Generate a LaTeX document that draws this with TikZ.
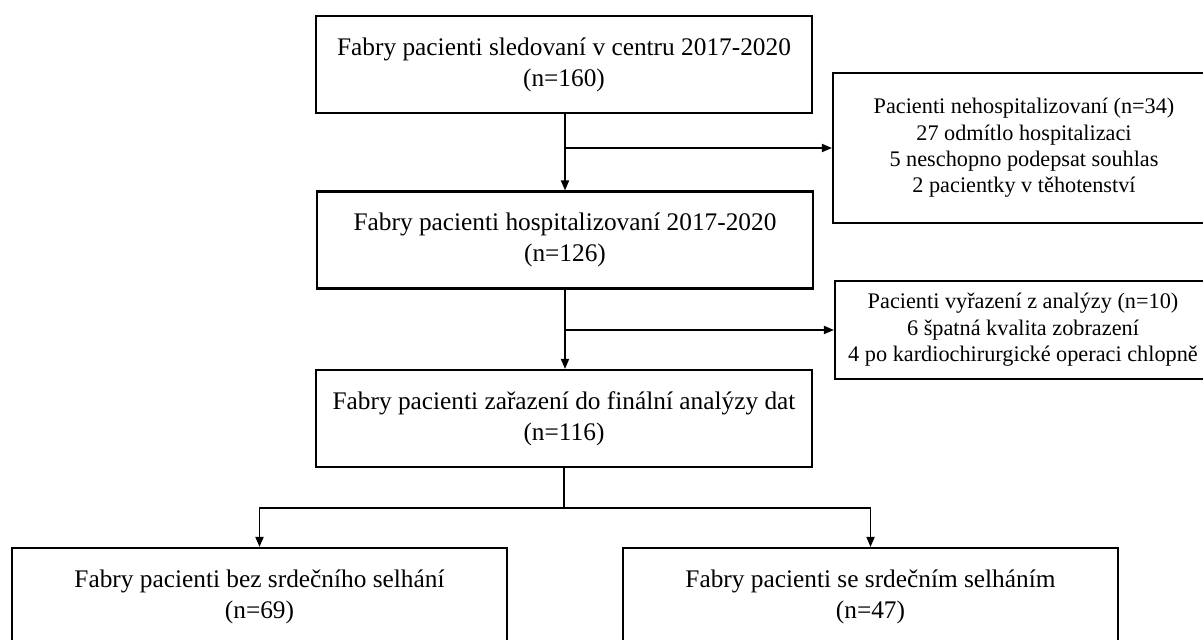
\documentclass[tikz,border=0pt]{standalone}
\usepackage{fontspec}
\setmainfont{Liberation Serif}
\usetikzlibrary{arrows.meta,positioning,calc}

\tikzset{
  box/.style={draw,line width=1.6pt,align=center,inner sep=0pt,
    minimum width=372pt,minimum height=72.75pt,
    font=\fontsize{19}{23.25}\selectfont},
  exclbox/.style={draw,line width=1.6pt,align=center,inner sep=0pt,
    minimum width=295pt,font=\fontsize{16.7}{19.8}\selectfont},
  link/.style={line width=1.3pt},
  arrow/.style={link,-{Triangle[length=7.5pt,width=6pt]}}
}

\begin{document}
\begin{tikzpicture}[x=0.75pt,y=-0.75pt]
      \useasboundingbox (0,0) rectangle (1203,639);
      \clip (0,0) rectangle (1203,639);

      % main flow
      \node[box] (sled) at (564,64.5) {Fabry pacienti sledovaní v centru 2017-2020\\(n=160)};
      \node[box] (hosp) at (565,240) {Fabry pacienti hospitalizovaní 2017-2020\\(n=126)};
      \node[box] (zar) at (564,418.5) {Fabry pacienti zařazení do finální analýzy dat\\(n=116)};

      % excluded (boxes run past the right edge)
      \node[exclbox,minimum width=286.5pt,minimum height=112.5pt] (nehosp) at (1024,148)
        {Pacienti nehospitalizovaní (n=34)\\27 odmítlo hospitalizaci\\5 neschopno podepsat souhlas\\2 pacientky v těhotenství};
      \node[exclbox,minimum width=282pt,minimum height=73.5pt] (vyraz) at (1023,330)
        {Pacienti vyřazení z analýzy (n=10)\\6 špatná kvalita zobrazení\\4 po kardiochirurgické operaci chlopně};

      % groups
      \node[box,minimum width=371.25pt] (bez) at (259.5,596.5) {Fabry pacienti bez srdečního selhání\\(n=69)};
      \node[box,minimum width=371.25pt] (se) at (870.5,596.5) {Fabry pacienti se srdečním selháním\\(n=47)};

      \draw[arrow] (sled.south -| hosp.north) -- (hosp.north);
      \coordinate (split1) at (hosp.north |- nehosp.west);
      \draw[arrow] (split1) -- (nehosp.west);

      \draw[arrow] (hosp.south) -- (hosp.south |- zar.north);
      \coordinate (split2) at (hosp.south |- vyraz.west);
      \draw[arrow] (split2) -- (vyraz.west);

      \coordinate (split3) at ($(zar.south)+(0,40)$);
      \draw[link] (zar.south) -- (split3);
      \draw[arrow] (split3) -| (bez.north);
      \draw[arrow] (split3) -| (se.north);
\end{tikzpicture}
\end{document}
